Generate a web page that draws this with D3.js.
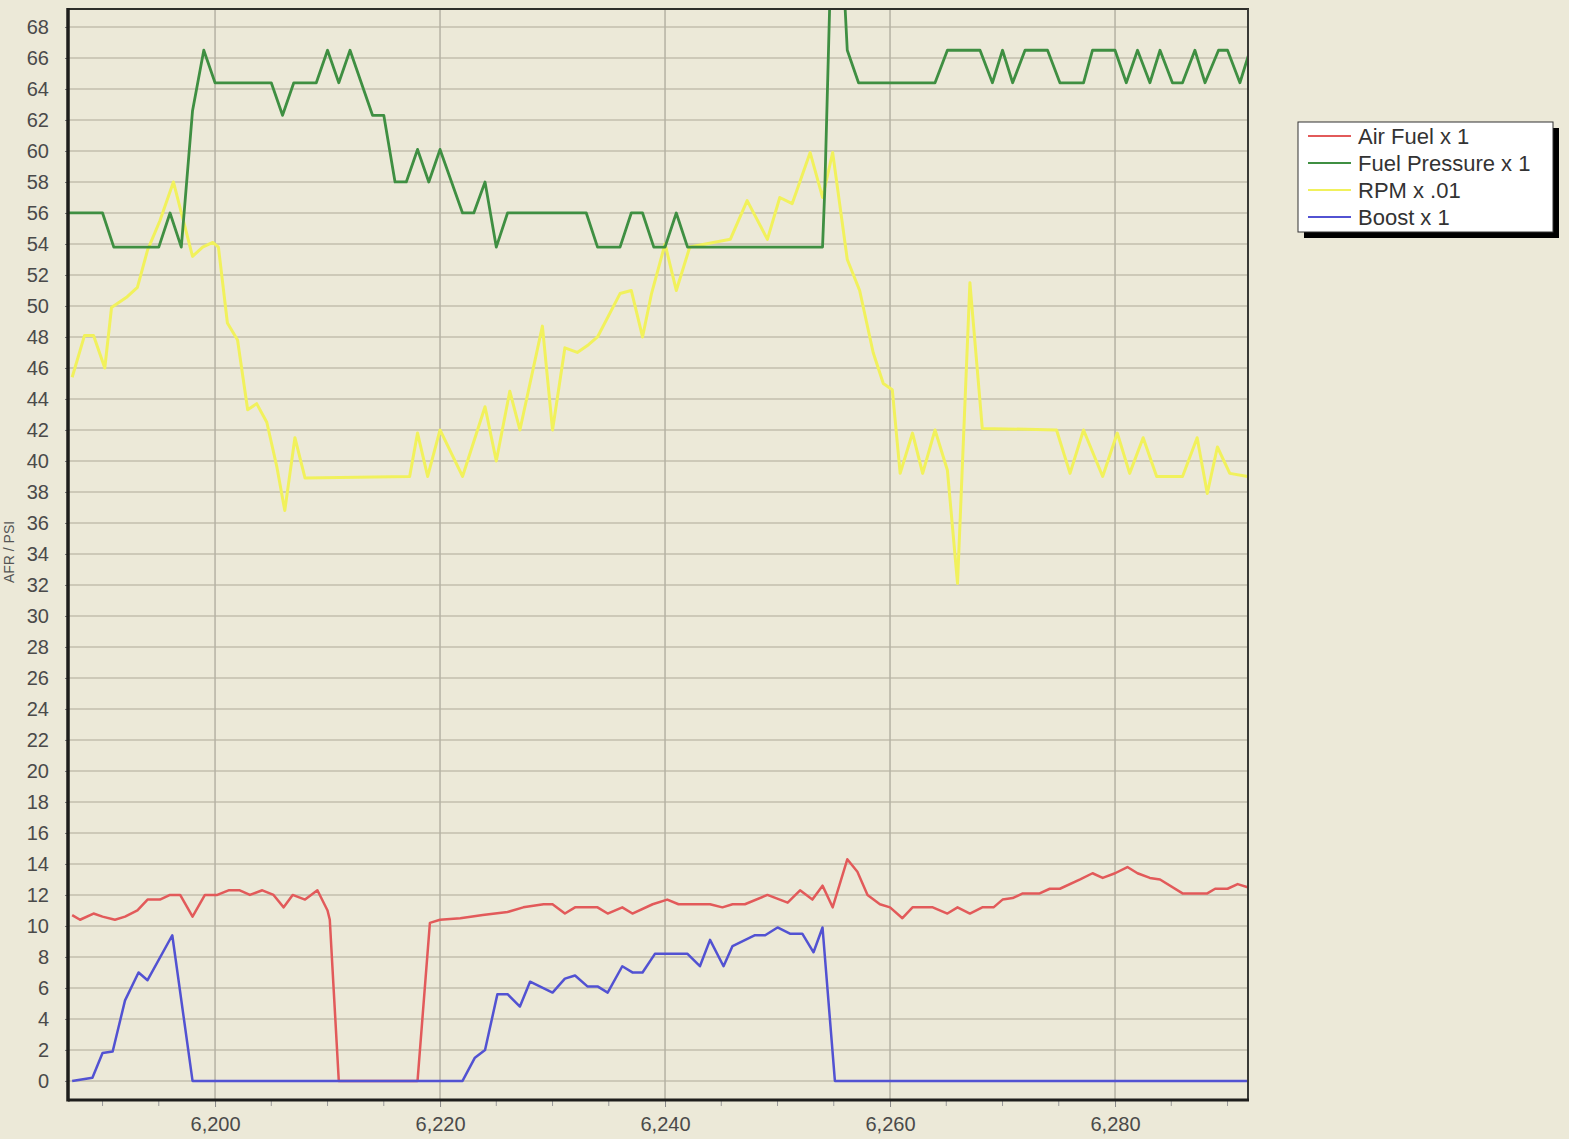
<!DOCTYPE html>
<html lang="en">
<head>
  <meta charset="UTF-8">
  <title>Data Log</title>
  <script src="https://d3js.org/d3.v7.min.js"></script>
  <style>
    html, body { margin: 0; padding: 0; background: #ece9d8; }
    body { font-family: Arial, "Liberation Sans", sans-serif; }
    svg { display: block; }
  </style>
</head>
<body>
<svg id="chart" width="1569" height="1139"></svg>
<script>
// ---- data ----
const yTicks = d3.range(0, 69, 2);
const xTicks = [6200, 6220, 6240, 6260, 6280];
const xMinor = d3.range(6190, 6291, 5);

const seriesNames = ["Air Fuel x 1", "Fuel Pressure x 1", "RPM x .01", "Boost x 1"];
const seriesColors = ["#e25a5a", "#3f8f42", "#f1f15c", "#5252d2"];

const airFuelT = [6187.3, 6188, 6189.2, 6190, 6191.1, 6192, 6193.1, 6194, 6195.1, 6196, 6196.9, 6198, 6199.1, 6200.2,
  6201.2, 6202.2, 6203.1, 6204.2, 6205.2, 6206.1, 6206.9, 6208, 6209.1, 6210, 6210.2, 6211, 6218, 6219.1, 6220,
  6221.8, 6223.8, 6226, 6227.4, 6229.2, 6230, 6231.1, 6232, 6234, 6234.9, 6236.2, 6237.1, 6238.9, 6240.2, 6241.2,
  6244, 6245.1, 6246, 6247.1, 6249.1, 6250.9, 6252, 6253.1, 6254, 6254.9, 6256.2, 6257.1, 6258, 6259.1, 6260,
  6261.1, 6262, 6263.8, 6265.1, 6266, 6267.1, 6268.2, 6269.2, 6270, 6270.9, 6271.8, 6273.3, 6274.2, 6275.1,
  6276.9, 6278, 6278.9, 6280, 6281.1, 6282, 6283.1, 6284, 6286, 6288.2, 6288.9, 6290, 6290.9, 6291.8];
const airFuelV = [10.7, 10.4, 10.8, 10.6, 10.4, 10.6, 11.0, 11.7, 11.7, 12.0, 12.0, 10.6, 12.0, 12.0,
  12.3, 12.3, 12.0, 12.3, 12.0, 11.2, 12.0, 11.7, 12.3, 11.0, 10.4, 0, 0, 10.2, 10.4,
  10.5, 10.7, 10.9, 11.2, 11.4, 11.4, 10.8, 11.2, 11.2, 10.8, 11.2, 10.8, 11.4, 11.7, 11.4,
  11.4, 11.2, 11.4, 11.4, 12.0, 11.5, 12.3, 11.7, 12.6, 11.2, 14.3, 13.5, 12.0, 11.4, 11.2,
  10.5, 11.2, 11.2, 10.8, 11.2, 10.8, 11.2, 11.2, 11.7, 11.8, 12.1, 12.1, 12.4, 12.4,
  13.0, 13.4, 13.1, 13.4, 13.8, 13.4, 13.1, 13.0, 12.1, 12.1, 12.4, 12.4, 12.7, 12.5];

const fuelPressureT = [6186.9, 6190, 6191, 6195, 6196, 6197, 6198, 6199, 6200, 6205, 6206, 6207, 6209, 6210, 6211,
  6212, 6214, 6215, 6216, 6217, 6218, 6219, 6220, 6222, 6223, 6224, 6225, 6226, 6233, 6234, 6236, 6237, 6238,
  6239, 6240, 6241, 6242, 6254, 6254.2, 6255.1, 6256.2, 6257.2, 6264, 6265.1, 6268, 6269.1, 6270, 6270.9, 6272,
  6274, 6275.1, 6277.2, 6278, 6280, 6281, 6282, 6283.1, 6284, 6285.1, 6286, 6287.1, 6288, 6289.2, 6290, 6291.1, 6292];
const fuelPressureV = [56, 56, 53.8, 53.8, 56, 53.8, 62.6, 66.5, 64.4, 64.4, 62.3, 64.4, 64.4, 66.5, 64.4,
  66.5, 62.3, 62.3, 58, 58, 60.1, 58, 60.1, 56, 56, 58, 53.8, 56, 56, 53.8, 53.8, 56, 56,
  53.8, 53.8, 56, 53.8, 53.8, 57.5, 82, 66.5, 64.4, 64.4, 66.5, 66.5, 64.4, 66.5, 64.4, 66.5,
  66.5, 64.4, 64.4, 66.5, 66.5, 64.4, 66.5, 64.4, 66.5, 64.4, 64.4, 66.5, 64.4, 66.5, 66.5, 64.4, 66.5];

const rpmT = [6187.3, 6188.4, 6189.2, 6190.2, 6190.8, 6192.2, 6193.1, 6194, 6195.1, 6196.3, 6198, 6198.9, 6199.8,
  6200.3, 6201.1, 6202, 6202.9, 6203.7, 6204.6, 6205.5, 6206.2, 6207.1, 6208, 6217.3, 6218, 6218.9, 6220,
  6222, 6224, 6225, 6226.2, 6227.1, 6229.1, 6230, 6231.1, 6232.2, 6233.2, 6234, 6236, 6237, 6238, 6238.8,
  6240, 6241, 6242.2, 6245.8, 6247.3, 6249.1, 6250.2, 6251.3, 6252.9, 6254, 6254.9, 6256.2, 6257.3, 6258.5,
  6259.4, 6260.2, 6260.9, 6262, 6262.9, 6264, 6265.1, 6266, 6267.1, 6268.2, 6274.8, 6276, 6277.2, 6278.9,
  6280.2, 6281.3, 6282.5, 6283.7, 6286, 6287.3, 6288.2, 6289.1, 6290.2, 6291.8];
const rpmV = [45.4, 48.1, 48.1, 46.0, 49.9, 50.6, 51.2, 53.6, 55.5, 58.0, 53.2, 53.8, 54.1,
  53.8, 48.9, 47.8, 43.3, 43.7, 42.5, 39.6, 36.8, 41.5, 38.9, 39.0, 41.8, 39.0, 42.0,
  39.0, 43.5, 40.0, 44.5, 42.0, 48.7, 42.0, 47.3, 47.0, 47.5, 48.0, 50.8, 51.0, 48.0, 50.8,
  54.0, 51.0, 53.8, 54.3, 56.8, 54.3, 57.0, 56.6, 59.9, 57.0, 59.9, 53.0, 51.0, 47.0,
  45.0, 44.6, 39.2, 41.8, 39.2, 42.0, 39.4, 32.1, 51.5, 42.1, 42.0, 39.2, 42.0, 39.0,
  41.8, 39.2, 41.5, 39.0, 39.0, 41.5, 37.9, 40.9, 39.2, 39.0];

const boostT = [6187.3, 6189.1, 6190, 6190.9, 6192, 6193.2, 6194, 6196.2, 6198, 6222, 6223.1, 6224, 6225.1, 6226,
  6227.1, 6228, 6230, 6231.1, 6232, 6233.1, 6234, 6234.9, 6236.2, 6237.1, 6238, 6239.1, 6242, 6243.1, 6244,
  6245.2, 6246, 6248, 6248.9, 6250, 6251.1, 6252.2, 6253.2, 6254, 6255.1, 6291.8];
const boostV = [0, 0.2, 1.8, 1.9, 5.2, 7.0, 6.5, 9.4, 0, 0, 1.5, 2.0, 5.6, 5.6,
  4.8, 6.4, 5.7, 6.6, 6.8, 6.1, 6.1, 5.7, 7.4, 7.0, 7.0, 8.2, 8.2, 7.4, 9.1,
  7.4, 8.7, 9.4, 9.4, 9.9, 9.5, 9.5, 8.3, 9.9, 0, 0];

// ---- layout ----
const svg = d3.select("#chart");
const plot = { left: 68, right: 1248, top: 9, bottom: 1100 };

const x = d3.scaleLinear().domain([6186.93, 6291.82]).range([plot.left, plot.right]);
const y = d3.scaleLinear().domain([-1.23, 69.16]).range([plot.bottom, plot.top]);

svg.append("rect")
  .attr("width", 1569).attr("height", 1139)
  .attr("fill", "#ece9d8");

svg.append("clipPath").attr("id", "plot-clip")
  .append("rect")
  .attr("x", plot.left).attr("y", plot.top)
  .attr("width", plot.right - plot.left).attr("height", plot.bottom - plot.top);

// horizontal grid
svg.append("g")
  .selectAll("line")
  .data(yTicks)
  .join("line")
  .attr("x1", plot.left).attr("x2", plot.right)
  .attr("y1", d => y(d)).attr("y2", d => y(d))
  .attr("stroke", "#cdc9b8")
  .attr("stroke-width", 2);

// vertical grid
svg.append("g")
  .selectAll("line")
  .data(xTicks)
  .join("line")
  .attr("x1", d => x(d)).attr("x2", d => x(d))
  .attr("y1", plot.top).attr("y2", plot.bottom)
  .attr("stroke", "#b5b2a4")
  .attr("stroke-width", 1.5);

// y axis labels
const yAxis = d3.axisLeft(y).tickValues(yTicks).tickSize(3).tickPadding(16);
svg.append("g")
  .attr("transform", `translate(${plot.left},0)`)
  .call(yAxis)
  .call(g => g.select(".domain").remove())
  .call(g => g.selectAll("line").attr("stroke", "#777"))
  .call(g => g.selectAll("text")
    .attr("font-size", 20)
    .attr("font-family", "Arial, 'Liberation Sans', sans-serif")
    .attr("fill", "#4a4a4a"));

// x axis
const xAxis = d3.axisBottom(x).tickValues(xTicks).tickSize(7).tickPadding(10)
  .tickFormat(d3.format(","));
svg.append("g")
  .attr("transform", `translate(0,${plot.bottom})`)
  .call(xAxis)
  .call(g => g.select(".domain").remove())
  .call(g => g.selectAll("line").attr("stroke", "#888"))
  .call(g => g.selectAll("text")
    .attr("font-size", 20)
    .attr("font-family", "Arial, 'Liberation Sans', sans-serif")
    .attr("fill", "#4a4a4a"));

svg.append("g")
  .selectAll("line")
  .data(xMinor.filter(d => !xTicks.includes(d)))
  .join("line")
  .attr("x1", d => x(d)).attr("x2", d => x(d))
  .attr("y1", plot.bottom).attr("y2", plot.bottom + 6)
  .attr("stroke", "#999")
  .attr("stroke-width", 1);

// axis title squeezed into the strip left of the tick labels
svg.append("text")
  .attr("transform", "translate(14,552) rotate(-90)")
  .attr("text-anchor", "middle")
  .attr("font-size", 14)
  .attr("fill", "#555")
  .text("AFR / PSI");

// series
const series = [
  { t: airFuelT, v: airFuelV, width: 2.5 },
  { t: fuelPressureT, v: fuelPressureV, width: 2.8 },
  { t: rpmT, v: rpmV, width: 3 },
  { t: boostT, v: boostV, width: 2.5 }
];

const line = d3.line().x(d => x(d[0])).y(d => y(d[1]));
const lines = svg.append("g").attr("clip-path", "url(#plot-clip)");

// draw yellow first so green and red sit on top like the original
[2, 1, 0, 3].forEach(i => {
  const s = series[i];
  lines.append("path")
    .datum(d3.zip(s.t, s.v))
    .attr("fill", "none")
    .attr("stroke", seriesColors[i])
    .attr("stroke-width", s.width)
    .attr("stroke-linejoin", "round")
    .attr("d", line);
});

// frame
svg.append("line").attr("x1", plot.left).attr("x2", plot.right + 1)
  .attr("y1", plot.top).attr("y2", plot.top)
  .attr("stroke", "#2e2e2a").attr("stroke-width", 2);
svg.append("line").attr("x1", plot.right).attr("x2", plot.right)
  .attr("y1", plot.top).attr("y2", plot.bottom)
  .attr("stroke", "#3a3a36").attr("stroke-width", 2);
svg.append("line").attr("x1", plot.left).attr("x2", plot.left)
  .attr("y1", plot.top - 1).attr("y2", plot.bottom + 1.5)
  .attr("stroke", "#1e1e1c").attr("stroke-width", 3.5);
svg.append("line").attr("x1", plot.left).attr("x2", plot.right + 1)
  .attr("y1", plot.bottom).attr("y2", plot.bottom)
  .attr("stroke", "#1e1e1c").attr("stroke-width", 3);

// legend
const legend = svg.append("g").attr("transform", "translate(1298,122)");
legend.append("rect")
  .attr("x", 6).attr("y", 6).attr("width", 255).attr("height", 110)
  .attr("fill", "#000");
legend.append("rect")
  .attr("x", 0).attr("y", 0).attr("width", 255).attr("height", 110)
  .attr("fill", "#fff").attr("stroke", "#333").attr("stroke-width", 1);

const rows = legend.selectAll("g.row")
  .data(seriesNames)
  .join("g")
  .attr("class", "row")
  .attr("transform", (d, i) => `translate(0,${14 + i * 27})`);
rows.append("line")
  .attr("x1", 10).attr("x2", 53)
  .attr("stroke", (d, i) => seriesColors[i])
  .attr("stroke-width", 2);
rows.append("text")
  .attr("x", 60).attr("dy", "0.36em")
  .attr("font-size", 22)
  .attr("fill", "#333")
  .text(d => d);
</script>
</body>
</html>
